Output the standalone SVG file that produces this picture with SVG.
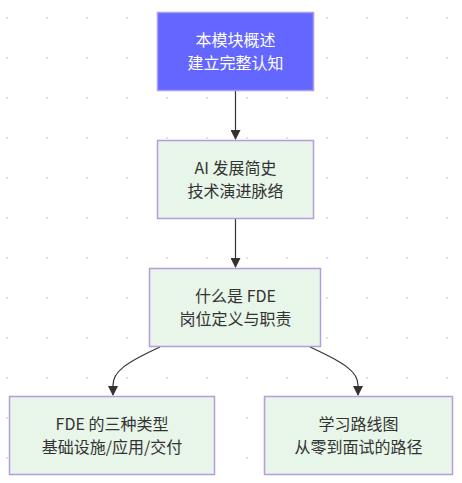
<svg xmlns="http://www.w3.org/2000/svg" width="462" height="483" viewBox="0 0 462 483">
<defs>
<pattern id="dots" x="6" y="17" width="40" height="40" patternUnits="userSpaceOnUse">
<rect x="0" y="0" width="2" height="2" fill="#e2e2e2"/>
</pattern>
<marker id="arr" viewBox="0 0 10 10" refX="9" refY="5" markerWidth="10" markerHeight="10" markerUnits="userSpaceOnUse" orient="auto">
<path d="M0,0 L10,5 L0,10 z" fill="#333"/>
</marker>
<style>
.n rect{fill:#e8f5e9;stroke:#b39ddb;stroke-width:1.5}
.n text{font-family:"Noto Sans CJK SC","Noto Sans",sans-serif;font-size:16px;fill:#333;text-anchor:middle}
#n1 rect{fill:#6366ff;stroke:#a99cf0}
#n1 text{fill:#fff}
.e path{fill:none;stroke:#333;stroke-width:1.2;marker-end:url(#arr)}
</style>
</defs>
<rect width="462" height="483" fill="#fff"/>
<rect width="462" height="483" fill="url(#dots)"/>
<g class="e" id="edges">
<path d="M235.5,91 L235.5,139"/>
<path d="M235.5,219 L235.5,267"/>
<path d="M160,347 C125,363 113,372 113,385 L113,395"/>
<path d="M310,347 C345,363 358,372 358,385 L358,395"/>
</g>
<g class="n" id="n1">
<rect x="157.5" y="12.5" width="156" height="78"/>
<text x="235.5" y="46">本模块概述</text>
<text x="235.5" y="69">建立完整认知</text>
</g>
<g class="n" id="n2">
<rect x="157.5" y="140.5" width="156" height="78"/>
<text x="235.5" y="174">AI 发展简史</text>
<text x="235.5" y="197">技术演进脉络</text>
</g>
<g class="n" id="n3">
<rect x="149.5" y="268.5" width="171" height="78"/>
<text x="235.5" y="302">什么是 FDE</text>
<text x="235.5" y="325">岗位定义与职责</text>
</g>
<g class="n" id="n4">
<rect x="9.5" y="396.5" width="205" height="78"/>
<text x="112" y="430">FDE 的三种类型</text>
<text x="112" y="453">基础设施/应用/交付</text>
</g>
<g class="n" id="n5">
<rect x="264.5" y="396.5" width="188" height="78"/>
<text x="358.5" y="430">学习路线图</text>
<text x="358.5" y="453">从零到面试的路径</text>
</g>
</svg>
